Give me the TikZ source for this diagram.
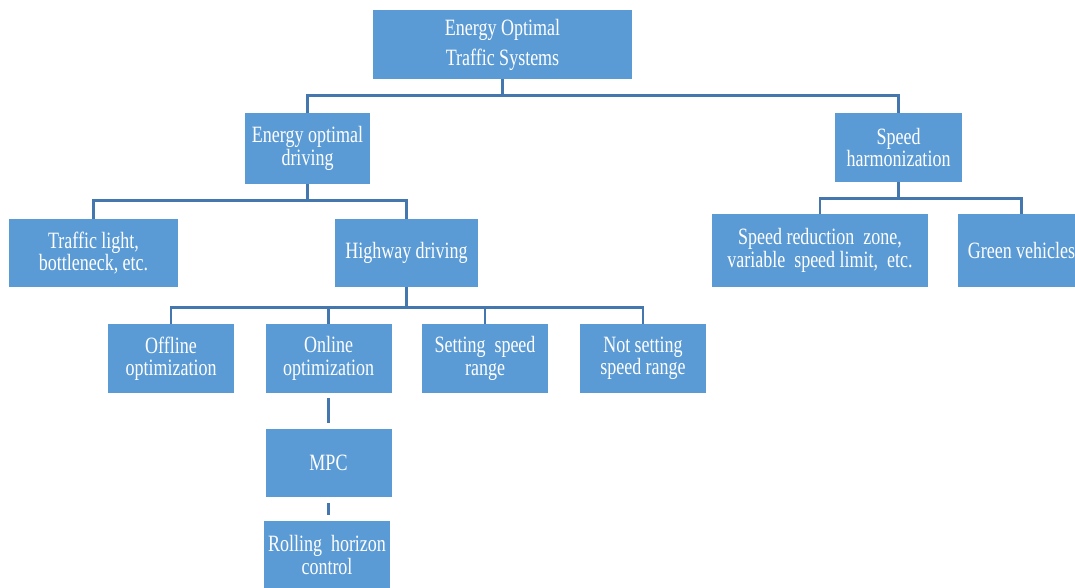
\documentclass[tikz,border=0pt]{standalone}
\usepackage{fontspec}
\setmainfont[FakeStretch=0.77]{Liberation Serif}
\definecolor{boxblue}{HTML}{5B9BD5}
\definecolor{linkblue}{HTML}{4477AE}
\begin{document}
\begin{tikzpicture}[
    block/.style={rectangle, fill=boxblue, text=white, align=center, inner sep=0pt,
        minimum width=2.52cm, minimum height=1.38cm, font=\fontsize{13.3}{12.8}\selectfont},
    link/.style={draw=linkblue, line width=1.5pt}
]
\useasboundingbox (0,0) rectangle (21.5,-11.74);
\clip (0,0) rectangle (21.5,-11.74);
\node[block, minimum width=5.18cm, font=\fontsize{13.3}{17}\selectfont] (root) at (10.05,-0.89) {Energy Optimal\\Traffic Systems};

\node[block, minimum width=2.5cm, minimum height=1.42cm] (eod) at (6.15,-2.97) {Energy optimal\\driving};
\node[block, minimum width=2.54cm] (sh) at (17.97,-2.95) {Speed\\harmonization};

\node[block, minimum width=3.38cm, minimum height=1.36cm] (tl) at (1.87,-5.06) {Traffic light,\\bottleneck, etc.};
\node[block, minimum width=2.86cm, minimum height=1.36cm] (hd) at (8.13,-5.06) {Highway driving};

\node[block, minimum width=4.32cm, minimum height=1.46cm] (srz) at (16.4,-5.01) {Speed reduction~ zone,\\variable~ speed limit,~ etc.};
\node[block, minimum width=2.54cm, minimum height=1.46cm] (gv) at (20.43,-5.01) {Green vehicles};

\node[block] (off) at (3.42,-7.17) {Offline\\optimization};
\node[block] (on) at (6.57,-7.17) {Online\\optimization};
\node[block] (set) at (9.7,-7.17) {Setting~ speed\\range};
\node[block] (nset) at (12.86,-7.17) {Not setting\\speed range};

\node[block, minimum height=1.36cm] (mpc) at (6.57,-9.26) {MPC};
\node[block, minimum height=1.36cm] (rhc) at (6.54,-11.1) {Rolling~ horizon\\control};

\draw[link] (root.south) -- ++(0,-0.32) -| (eod.north);
\draw[link] (root.south) -- ++(0,-0.32) -| (sh.north);

\draw[link] (eod.south) -- ++(0,-0.32) -| (tl.north);
\draw[link] (eod.south) -- ++(0,-0.32) -| (hd.north);

\draw[link] (sh.south) -- ++(0,-0.32) -| (srz.north);
\draw[link] (sh.south) -- ++(0,-0.32) -| (gv.north);

\draw[link] (hd.south) -- ++(0,-0.4) -| (off.north);
\draw[link] (hd.south) -- ++(0,-0.4) -| (on.north);
\draw[link] (hd.south) -- ++(0,-0.4) -| (set.north);
\draw[link] (hd.south) -- ++(0,-0.4) -| (nset.north);

\draw[link, shorten <=0.1cm, shorten >=0.12cm] (on) -- (mpc);
\draw[link, shorten <=0.12cm, shorten >=0.12cm] (mpc.south) -- (mpc.south |- rhc.north);
\end{tikzpicture}
\end{document}
